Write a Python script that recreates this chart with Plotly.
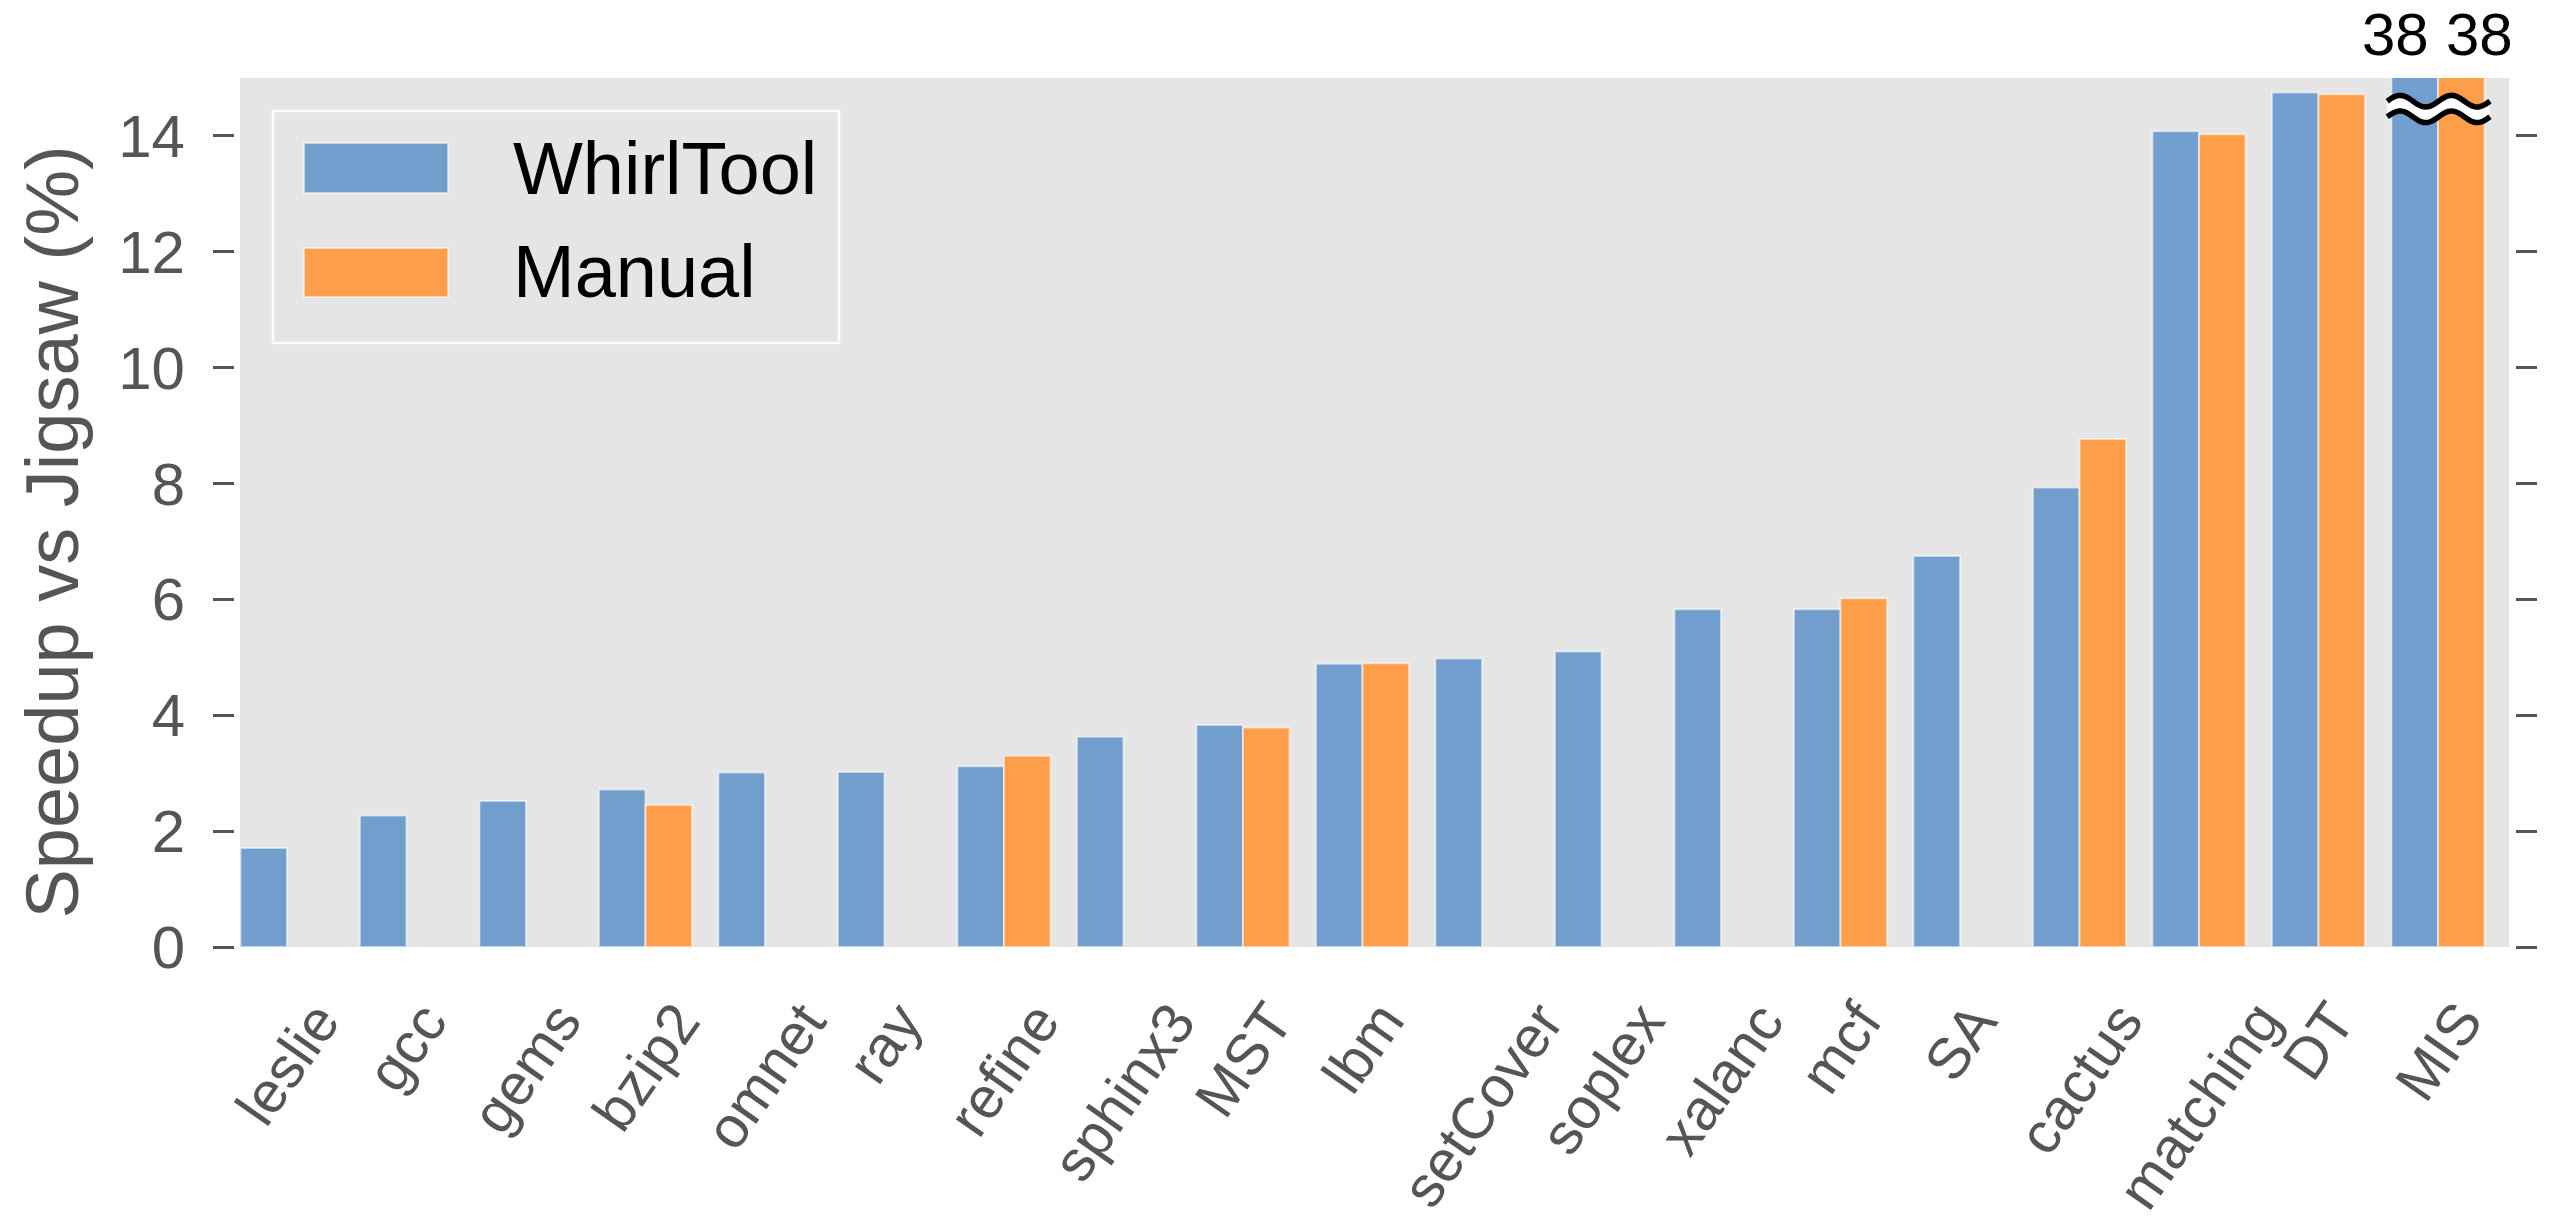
import numpy as np
import plotly.graph_objects as go

# ---- data -------------------------------------------------------------
benchmarks = ["leslie", "gcc", "gems", "bzip2", "omnet", "ray", "refine", "sphinx3",
              "MST", "lbm", "setCover", "soplex", "xalanc", "mcf", "SA", "cactus",
              "matching", "DT", "MIS"]
whirltool = [1.71, 2.27, 2.52, 2.72, 3.01, 3.02, 3.12, 3.63,
             3.83, 4.89, 4.98, 5.10, 5.83, 5.83, 6.75, 7.93,
             14.08, 14.75, 38]
manual = [None, None, None, 2.45, None, None, 3.30, None,
          3.79, 4.90, None, None, None, 6.02, None, 8.77,
          14.03, 14.72, 38]
series_names = ["WhirlTool", "Manual"]
y_ticks = [0, 2, 4, 6, 8, 10, 12, 14]
y_title = "Speedup vs Jigsaw (%)"

# ---- style ------------------------------------------------------------
W, H = 2561, 1225
BLUE = "#729ECE"
ORANGE = "#FF9E4A"
BG = "#E5E5E5"
AXIS_GREY = "#555555"
FONT = "Liberation Sans, Arial, Helvetica, sans-serif"
EDGE = "rgba(255,255,255,0.55)"
Y_MAX = 15
BARGAP = 0.22
X_RANGE = [-0.393, 18.594]

ML, MR, MT, MB = 234, 46, 78, 278
paper_w = W - ML - MR
gap = 6 / paper_w  # small gap between the plot area and the tick marks

pos = list(range(len(benchmarks)))

fig = go.Figure()
for name, vals, col in zip(series_names, [whirltool, manual], [BLUE, ORANGE]):
    fig.add_trace(go.Bar(
        x=pos, y=vals, name=name,
        marker=dict(color=col, line=dict(color=EDGE, width=2)),
        showlegend=False, hoverinfo="x+y",
    ))

# invisible helper so the mirrored right-hand axis gets drawn
fig.add_trace(go.Scatter(x=[0], y=[0], yaxis="y2", mode="markers",
                         marker=dict(opacity=0), showlegend=False, hoverinfo="skip"))

fig.update_layout(
    width=W, height=H,
    margin=dict(l=ML, r=MR, t=MT, b=MB, pad=0),
    paper_bgcolor="white", plot_bgcolor=BG,
    barmode="group", bargap=BARGAP, bargroupgap=0,
    font=dict(family=FONT, color=AXIS_GREY),
    xaxis=dict(type="linear", domain=[gap, 1 - gap], range=X_RANGE,
               showticklabels=False, ticks="", showgrid=False,
               zeroline=False, showline=False),
    yaxis=dict(range=[0, Y_MAX], tickvals=y_ticks, anchor="free", position=0,
               ticks="outside", ticklen=21, tickwidth=2.5, tickcolor=AXIS_GREY,
               tickfont=dict(size=60, color=AXIS_GREY, family=FONT),
               ticklabelstandoff=16,
               showgrid=False, zeroline=False, showline=False),
    yaxis2=dict(range=[0, Y_MAX], tickvals=y_ticks, overlaying="y", side="right",
                anchor="free", position=1, matches="y",
                ticks="outside", ticklen=21, tickwidth=2.5, tickcolor=AXIS_GREY,
                showticklabels=False, showgrid=False, zeroline=False, showline=False),
)

annotations = []
shapes = []

# rotated category labels, centred under each group
for i, name in zip(pos, benchmarks):
    annotations.append(dict(
        x=i, y=0, xref="x", yref="y", text=name, showarrow=False,
        textangle=-55, xanchor="center", yanchor="top", yshift=-41,
        font=dict(size=58, color=AXIS_GREY, family=FONT)))

# y-axis title
annotations.append(dict(
    x=-0.0826, y=0.4776, xref="x domain", yref="y domain", text=y_title,
    showarrow=False, textangle=-90, xanchor="center", yanchor="middle",
    font=dict(size=74, color=AXIS_GREY, family=FONT)))

# values of the bars that run past the top of the axis
last = len(benchmarks) - 1
for vals, anchor, shift in [(whirltool, "right", -7), (manual, "left", 6)]:
    v = vals[last]
    if v is not None and v > Y_MAX:
        annotations.append(dict(
            x=pos[last], y=1.0506, xref="x", yref="y domain", text=f"{v:g}",
            showarrow=False, xanchor=anchor, yanchor="middle", xshift=shift,
            font=dict(size=60, color="black", family=FONT)))

# axis-break marks over the clipped group
half = (1 - BARGAP) / 2
bx0, bx1 = pos[last] - half - 0.035, pos[last] + half + 0.045
xs = np.linspace(bx0, bx1, 60)
amp = 0.1
phase = 2 * np.pi * 2 * (xs - bx0) / (bx1 - bx0)
top = 14.60 + amp * np.sin(phase)
bot = 14.33 + amp * np.sin(phase)


def poly(xv, yv):
    return "M" + " L".join(f"{a:.4f},{b:.4f}" for a, b in zip(xv, yv))


band = poly(np.concatenate([xs, xs[::-1]]), np.concatenate([top, bot[::-1]])) + " Z"
shapes.append(dict(type="path", path=band, xref="x", yref="y",
                   fillcolor="white", line=dict(width=0), layer="above"))
for curve in (top, bot):
    shapes.append(dict(type="path", path=poly(xs, curve), xref="x", yref="y",
                       line=dict(color="black", width=5.5), layer="above"))

# legend box
shapes.append(dict(type="rect", xref="x domain", yref="y domain",
                   x0=0.01454, x1=0.2640, y0=0.695, y1=0.962,
                   fillcolor=BG, line=dict(color="white", width=2.5), layer="above"))
rows = [(0.8677, 0.9252, 0.8964), (0.748, 0.8044, 0.7768)]
for tr, (y0, y1, yc) in zip(fig.data[:2], rows):
    shapes.append(dict(type="rect", xref="x domain", yref="y domain",
                       x0=0.0282, x1=0.0917, y0=y0, y1=y1,
                       fillcolor=tr.marker.color, line=dict(color=EDGE, width=2),
                       layer="above"))
    annotations.append(dict(
        x=0.1194, y=yc, xref="x domain", yref="y domain", text=tr.name,
        showarrow=False, xanchor="left", yanchor="middle",
        font=dict(size=74, color="black", family=FONT)))

fig.update_layout(annotations=annotations, shapes=shapes)
fig.write_html("out.html")
